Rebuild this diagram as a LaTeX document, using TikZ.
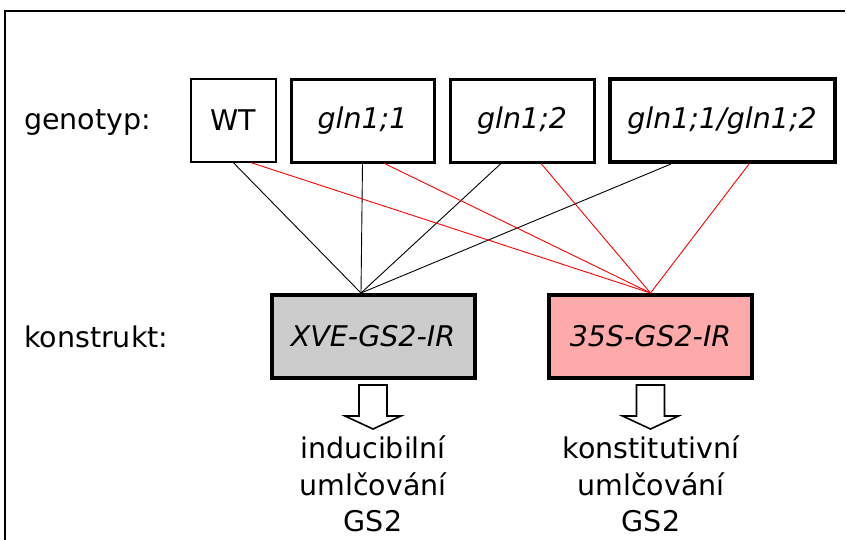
\documentclass[tikz,border=0pt]{standalone}
\usepackage{fontspec}
\setmainfont{DejaVu Sans}
\usepackage{tikz}
\usetikzlibrary{positioning}
\definecolor{lpink}{HTML}{FFAAAA}
\definecolor{lgray}{HTML}{CCCCCC}
\newcommand{\bigtxt}{\fontsize{28.5}{36.5}\selectfont}

\tikzset{
  geno/.style={draw, line width=3pt, minimum height=83pt, inner sep=0pt, font=\bigtxt\itshape},
  konst/.style={draw, line width=4pt, minimum width=203pt, minimum height=83pt, inner sep=0pt, font=\bigtxt\itshape},
  blk/.style={black, line width=0.9pt},
  rd/.style={red, line width=0.9pt},
  hollow/.style={draw, line width=1.6pt, fill=white, line join=miter},
  outcome/.style={align=center, inner sep=0pt}
}

\begin{document}
\begin{tikzpicture}[x=1pt, y=-1pt, font=\bigtxt]
\useasboundingbox (0,0) rectangle (846,539);
% frame
\draw[line width=2pt] (845,11) -- (5,11) -- (5,540);
% labels on the left
\node[anchor=west, inner sep=0pt] (lgeno) at (24,122) {genotyp:};
\node[anchor=west, inner sep=0pt] (lkonst) at (24,337) {konstrukt:};
% genotypes
\node[geno, line width=1.6pt, minimum width=85pt, font=\bigtxt] (wt) at (233.5,120.5) {WT};
\node[geno, minimum width=143pt] (g1) at (362.5,120.5) {gln1;1};
\node[geno, minimum width=144pt] (g2) at (522,120.5) {gln1;2};
\node[geno, line width=4pt, minimum width=225pt] (g12) at (722,120.5) {gln1;1/gln1;2};
% constructs
\node[konst, fill=lgray] (xve) at (373,336.5) {XVE-GS2-IR};
\node[konst, fill=lpink] (s35) at (650.5,336.5) {35S-GS2-IR};
% links
\coordinate (xin) at ([xshift=-12pt]xve.north);
\coordinate (sin) at (s35.north);
\draw[blk] (wt.south) -- (xin);
\draw[blk] (g1.south) -- (xin);
\draw[blk] ([xshift=-21pt]g2.south) -- (xin);
\draw[blk] ([xshift=-51pt]g12.south) -- (xin);
\draw[rd] ([xshift=18pt]wt.south) -- (sin);
\draw[rd] ([xshift=22pt]g1.south) -- (sin);
\draw[rd] ([xshift=19pt]g2.south) -- (sin);
\draw[rd] ([xshift=27pt]g12.south) -- (sin);
% hollow arrows
\foreach \n in {xve,s35}{
  \draw[hollow, shift={(\n.south)}] (-14,5) -- (14,5) -- (14,36) -- (28,36)
    -- (0,49) -- (-28,36) -- (-14,36) -- cycle;
}
% outcomes
\node[outcome] (oxve) at (373,484) {inducibilní\\umlčování\\GS2};
\node[outcome] (os35) at (651,484) {konstitutivní\\umlčování\\GS2};
\end{tikzpicture}
\end{document}
